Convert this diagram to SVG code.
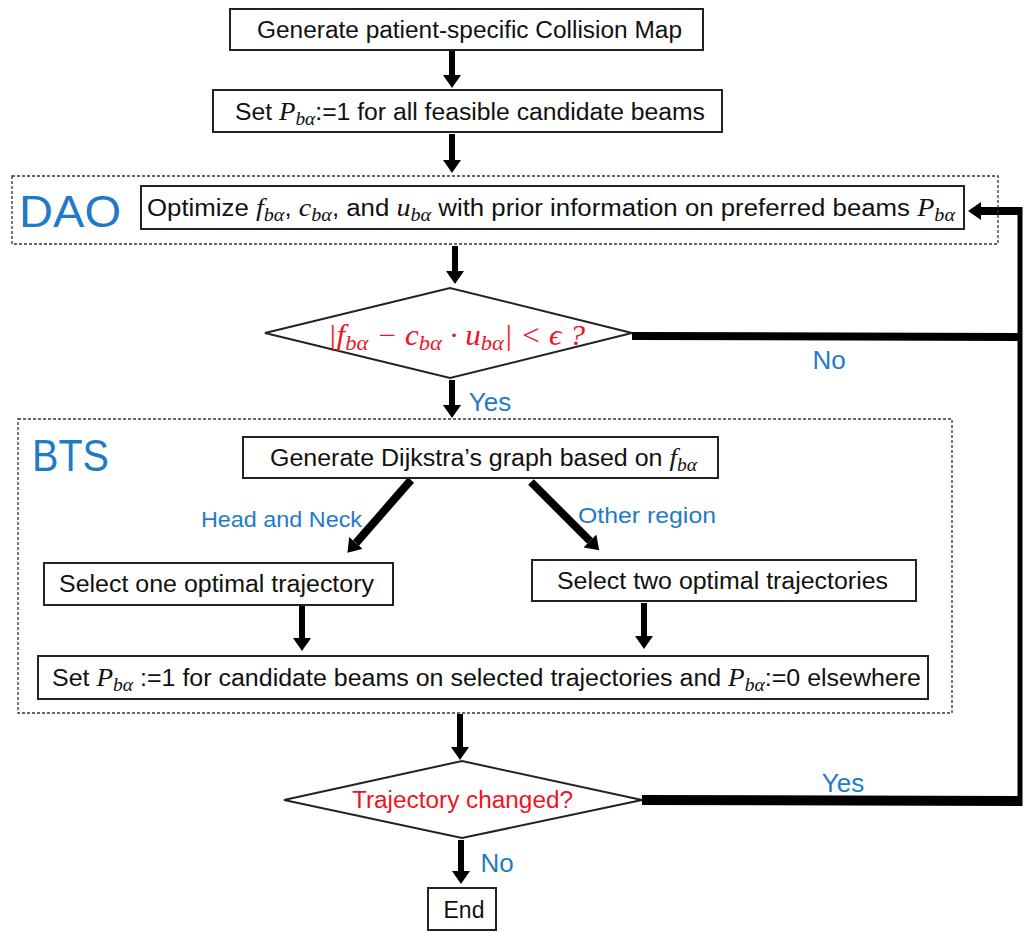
<svg xmlns="http://www.w3.org/2000/svg" width="1025" height="933" viewBox="0 0 1025 933">
<style>
.box{fill:#fff;stroke:#222;stroke-width:2}
.dash{fill:none;stroke:#333;stroke-width:1.3;stroke-dasharray:3 2}
.dia{fill:#fff;stroke:#222;stroke-width:2}
.t{font-family:"Liberation Sans","DejaVu Sans",sans-serif;font-size:23px;fill:#111}
.m{font-family:"Liberation Serif","DejaVu Serif",serif;font-style:italic;font-size:25px}
.s{font-family:"Liberation Serif","DejaVu Serif",serif;font-style:italic;font-size:18px}
.blue{font-family:"Liberation Sans","DejaVu Sans",sans-serif;fill:#1F7BC7}
.red{fill:#F0141E}
.arr{stroke:#000;stroke-width:6;fill:none}
.thick{stroke:#000;fill:none}
</style>
<defs>
<marker id="ah" markerUnits="userSpaceOnUse" markerWidth="14" markerHeight="18" refX="0" refY="9" orient="auto" viewBox="0 0 14 18">
<path d="M0,0 L13,9 L0,18 z" fill="#000"/>
</marker>
</defs>

<g id="connectors">
<line class="arr" x1="452" y1="51" x2="452" y2="75" marker-end="url(#ah)"/>
<line class="arr" x1="452" y1="134" x2="452" y2="160" marker-end="url(#ah)"/>
<line class="arr" x1="455" y1="246" x2="455" y2="271" marker-end="url(#ah)"/>
<line class="arr" x1="452" y1="380" x2="452" y2="405" marker-end="url(#ah)"/>
<line class="arr" style="stroke-width:8" x1="411" y1="480" x2="356" y2="543" marker-end="url(#ah)"/>
<line class="arr" style="stroke-width:8" x1="531" y1="482" x2="590" y2="541" marker-end="url(#ah)"/>
<line class="arr" x1="302" y1="606" x2="302" y2="638" marker-end="url(#ah)"/>
<line class="arr" x1="644" y1="603" x2="644" y2="636" marker-end="url(#ah)"/>
<line class="arr" x1="460" y1="714" x2="460" y2="747" marker-end="url(#ah)"/>
<line class="arr" x1="461" y1="840" x2="461" y2="871" marker-end="url(#ah)"/>
<polyline class="thick" style="stroke-width:8" points="632,336 1020,337"/>
<polyline class="thick" style="stroke-width:10" points="642,800 1020,801"/>
<line class="thick" style="stroke-width:5" x1="1020" y1="207" x2="1020" y2="806"/>
<line class="thick" style="stroke-width:8" x1="1022" y1="211" x2="981" y2="211" marker-end="url(#ah)"/>
</g>

<g id="n1"><rect class="box" x="230" y="9" width="473" height="41"/>
<text class="t" x="257" y="38" textLength="425" lengthAdjust="spacingAndGlyphs">Generate patient-specific Collision Map</text></g>

<g id="n2"><rect class="box" x="213" y="90" width="509" height="42"/>
<text class="t" x="235" y="120" textLength="470" lengthAdjust="spacingAndGlyphs">Set <tspan class="m">P</tspan><tspan class="s" dy="5">bα</tspan><tspan dy="-5">:=1 for all feasible candidate beams</tspan></text></g>

<g id="dao"><rect class="dash" x="12" y="176" width="986" height="68"/>
<text class="blue" x="19" y="227" font-size="44" textLength="102" lengthAdjust="spacingAndGlyphs">DAO</text></g>

<g id="n3"><rect class="box" x="141" y="186" width="823" height="43"/>
<text class="t" x="147" y="216" textLength="808" lengthAdjust="spacingAndGlyphs">Optimize <tspan class="m">f</tspan><tspan class="s" dy="5">bα</tspan><tspan dy="-5">, </tspan><tspan class="m">c</tspan><tspan class="s" dy="5">bα</tspan><tspan dy="-5">, and </tspan><tspan class="m">u</tspan><tspan class="s" dy="5">bα</tspan><tspan dy="-5"> with prior information on preferred beams </tspan><tspan class="m">P</tspan><tspan class="s" dy="5">bα</tspan></text></g>

<g id="d1"><polygon class="dia" points="265,333 450,288 632,333 450,378"/>
<text class="red" x="328" y="345" font-family="Liberation Serif, DejaVu Serif, serif" font-style="italic" font-size="29" textLength="257" lengthAdjust="spacingAndGlyphs">|<tspan>f</tspan><tspan font-size="21" dy="5">bα</tspan><tspan dy="-5"> − c</tspan><tspan font-size="21" dy="5">bα</tspan><tspan dy="-5"> · u</tspan><tspan font-size="21" dy="5">bα</tspan><tspan dy="-5">| &lt; ϵ ?</tspan></text></g>

<text class="blue" x="829" y="369" font-size="26" text-anchor="middle">No</text>
<text class="blue" x="490" y="411" font-size="26" text-anchor="middle">Yes</text>

<g id="bts"><rect class="dash" x="18" y="419" width="934" height="294"/>
<text class="blue" x="32" y="471" font-size="44" textLength="77" lengthAdjust="spacingAndGlyphs">BTS</text></g>

<g id="n4"><rect class="box" x="243" y="437" width="475" height="41"/>
<text class="t" x="270" y="466" textLength="427" lengthAdjust="spacingAndGlyphs">Generate Dijkstra’s graph based on <tspan class="m">f</tspan><tspan class="s" dy="5">bα</tspan></text></g>

<text class="blue" x="201" y="527" font-size="22" textLength="161" lengthAdjust="spacingAndGlyphs">Head and Neck</text>
<text class="blue" x="578" y="523" font-size="22" textLength="138" lengthAdjust="spacingAndGlyphs">Other region</text>

<g id="n5"><rect class="box" x="44" y="563" width="349" height="42"/>
<text class="t" x="59" y="592" textLength="315" lengthAdjust="spacingAndGlyphs">Select one optimal trajectory</text></g>

<g id="n6"><rect class="box" x="532" y="560" width="384" height="41"/>
<text class="t" x="557" y="589" textLength="331" lengthAdjust="spacingAndGlyphs">Select two optimal trajectories</text></g>

<g id="n7"><rect class="box" x="38" y="656" width="890" height="43"/>
<text class="t" x="52" y="686" textLength="869" lengthAdjust="spacingAndGlyphs">Set <tspan class="m">P</tspan><tspan class="s" dy="5">bα</tspan><tspan dy="-5"> :=1 for candidate beams on selected trajectories and </tspan><tspan class="m">P</tspan><tspan class="s" dy="5">bα</tspan><tspan dy="-5">:=0 elsewhere</tspan></text></g>

<g id="d2"><polygon class="dia" points="284,800 462,761 642,800 462,838"/>
<text class="red" x="352" y="808" font-family="Liberation Sans, DejaVu Sans, sans-serif" font-size="23" textLength="221" lengthAdjust="spacingAndGlyphs">Trajectory changed?</text></g>

<text class="blue" x="843" y="792" font-size="26" text-anchor="middle">Yes</text>
<text class="blue" x="497" y="872" font-size="26" text-anchor="middle">No</text>

<g id="n8"><rect class="box" x="428" y="888" width="68" height="42"/>
<text class="t" x="464" y="918" text-anchor="middle">End</text></g>
</svg>
